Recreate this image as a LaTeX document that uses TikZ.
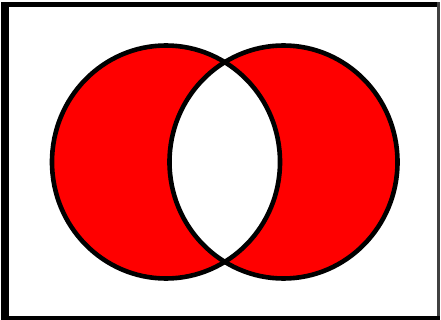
\documentclass[tikz,border=0pt]{standalone}
\begin{document}
\begin{tikzpicture}[x=1pt,y=-1pt,
  frame/.style={fill=black},
  setline/.style={draw=black,line width=4.6pt}]
\useasboundingbox (0,0) rectangle (441,320);
\fill[white] (0,0) rectangle (441,320);
% frame
\fill[frame] (1,2) rectangle (9,320);
\fill[frame] (1,2) rectangle (440,7);
\fill[black!75] (437,2) rectangle (439.5,320);
\fill[frame] (1,316) rectangle (440,320);
% symmetric difference
\fill[red,even odd rule] (166,162) ellipse [x radius=114, y radius=116.5]
                         (283.5,162) ellipse [x radius=114, y radius=116.5];
\draw[setline] (166,162) ellipse [x radius=114, y radius=116.5];
\draw[setline] (283.5,162) ellipse [x radius=114, y radius=116.5];
\end{tikzpicture}
\end{document}
